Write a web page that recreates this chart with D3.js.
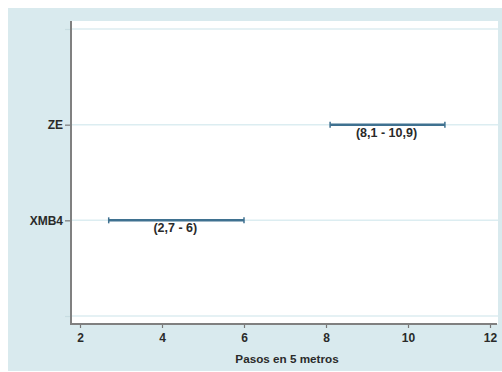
<!DOCTYPE html>
<html>
<head>
<meta charset="utf-8">
<script src="https://cdn.jsdelivr.net/npm/d3@7"></script>
<style>
  body { margin: 0; background: #fff; }
  svg { display: block; font-family: "Liberation Sans", Arial, sans-serif; }
</style>
</head>
<body>
<div id="chart"></div>
<script>

// Data
var groups = ['XMB4', 'ZE'];
var lower = [2.7, 8.1];
var upper = [6, 10.9];
var rangeLabels = ['(2,7 - 6)', '(8,1 - 10,9)'];
var xTicks = [2, 4, 6, 8, 10, 12];
var xTitle = 'Pasos en 5 metros';

var width = 502, height = 372;
var textColor = '#2a2a2a';

var svg = d3.select('#chart').append('svg')
	.attr('width', width)
	.attr('height', height);

// Outer background
svg.append('rect')
	.attr('x', 8).attr('y', 8)
	.attr('width', width - 8).attr('height', 363)
	.attr('fill', '#d9eaee');

var plot = { left: 71, right: 498, top: 21, bottom: 324 };

// Plot area
svg.append('rect')
	.attr('x', plot.left).attr('y', plot.top)
	.attr('width', plot.right - plot.left).attr('height', plot.bottom - plot.top)
	.attr('fill', '#ffffff');

var x = d3.scaleLinear().domain([2, 12]).range([80, 490]);

// Category positions: empty slot, groups, empty slot
var slots = [''].concat(groups).concat(['']);
var y = d3.scaleLinear().domain([0, slots.length - 1]).range([316, 29]);

// Grid lines
svg.append('g')
	.selectAll('line')
	.data(slots)
	.enter()
	.append('line')
	.attr('x1', plot.left + 1).attr('x2', plot.right)
	.attr('y1', (d, i) => y(i)).attr('y2', (d, i) => y(i))
	.attr('stroke', '#dcedf1')
	.attr('stroke-width', 1.5);

// Y axis
var yAxis = d3.axisLeft(y)
	.tickValues(d3.range(slots.length))
	.tickFormat((i) => slots[i])
	.tickSize(6)
	.tickPadding(2);

var gy = svg.append('g')
	.attr('transform', 'translate(' + plot.left + ',0)')
	.call(yAxis);

gy.select('.domain').remove();
gy.selectAll('.tick line')
	.attr('stroke', (i) => slots[i] ? '#777' : '#c8dde2')
	.attr('stroke-width', 1.2);
gy.selectAll('.tick text')
	.attr('fill', textColor)
	.attr('font-size', 12)
	.attr('font-weight', 'bold')
	.attr('font-family', '"Liberation Sans", Arial, sans-serif');

svg.append('line')
	.attr('x1', plot.left).attr('x2', plot.left)
	.attr('y1', plot.top).attr('y2', plot.bottom + 1)
	.attr('stroke', '#808080')
	.attr('stroke-width', 2);

// X axis
var xAxis = d3.axisBottom(x)
	.tickValues(xTicks)
	.tickFormat(d3.format('d'))
	.tickSize(4)
	.tickPadding(5);

var gx = svg.append('g')
	.attr('transform', 'translate(0,' + plot.bottom + ')')
	.call(xAxis);

gx.select('.domain').remove();
gx.selectAll('.tick line')
	.attr('stroke', '#777')
	.attr('stroke-width', 1.2);
gx.selectAll('.tick text')
	.attr('fill', textColor)
	.attr('font-size', 12)
	.attr('font-weight', 'bold')
	.attr('font-family', '"Liberation Sans", Arial, sans-serif');

svg.append('line')
	.attr('x1', plot.left).attr('x2', plot.right - 1)
	.attr('y1', plot.bottom).attr('y2', plot.bottom)
	.attr('stroke', '#808080')
	.attr('stroke-width', 2);

svg.append('text')
	.attr('x', 287)
	.attr('y', 363)
	.attr('text-anchor', 'middle')
	.attr('fill', textColor)
	.attr('font-size', 11.7)
	.attr('font-weight', 'bold')
	.text(xTitle);

// Range bars
var barColor = '#3f7190';
var bars = svg.append('g')
	.selectAll('g')
	.data(groups)
	.enter()
	.append('g');

bars.append('line')
	.attr('x1', (d, i) => x(lower[i]))
	.attr('x2', (d, i) => x(upper[i]))
	.attr('y1', (d, i) => y(i + 1))
	.attr('y2', (d, i) => y(i + 1))
	.attr('stroke', barColor)
	.attr('stroke-width', 2.5);

bars.selectAll('.cap')
	.data((d, i) => [lower[i], upper[i]].map((v) => ({ v: v, i: i })))
	.enter()
	.append('line')
	.attr('class', 'cap')
	.attr('x1', (c) => x(c.v)).attr('x2', (c) => x(c.v))
	.attr('y1', (c) => y(c.i + 1) - 3)
	.attr('y2', (c) => y(c.i + 1) + 3)
	.attr('stroke', barColor)
	.attr('stroke-width', 1.5);

bars.append('text')
	.attr('x', (d, i) => (x(lower[i]) + x(upper[i])) / 2 - 1)
	.attr('y', (d, i) => y(i + 1) + 12)
	.attr('text-anchor', 'middle')
	.attr('fill', textColor)
	.attr('font-size', 12.5)
	.attr('font-weight', 'bold')
	.text((d, i) => rangeLabels[i]);

</script>
</body>
</html>
